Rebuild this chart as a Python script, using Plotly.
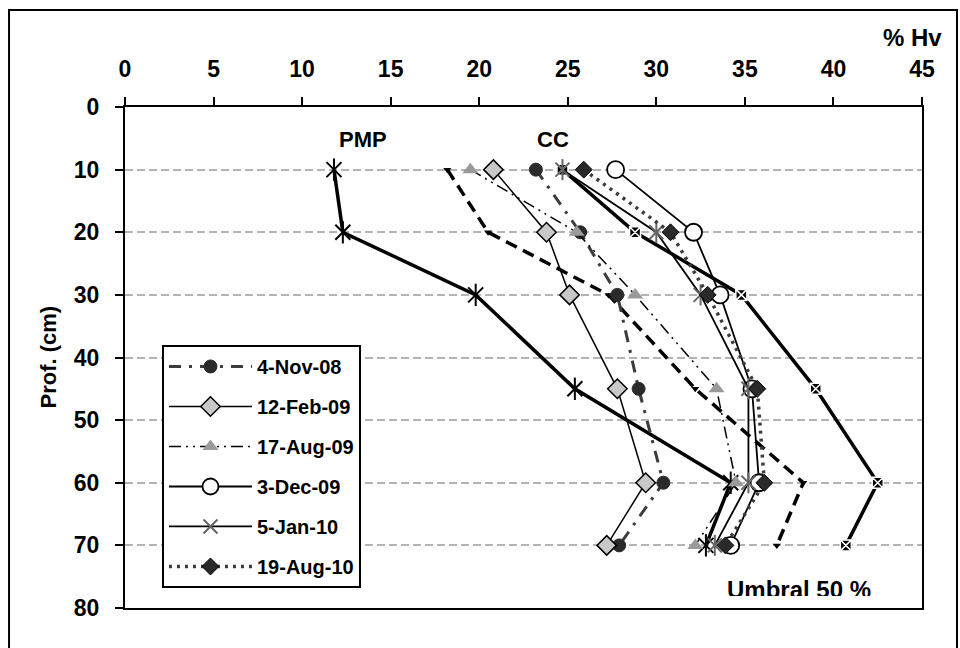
import plotly.graph_objects as go

# Soil moisture profiles: volumetric water content (% Hv) by depth (cm)
depths = [10, 20, 30, 45, 60, 70]

pmp = [11.8, 12.3, 19.8, 25.4, 34.2, 32.8]      # permanent wilting point
cc = [24.7, 28.8, 34.8, 39.0, 42.5, 40.7]       # field capacity
umbral = [18.2, 20.5, 27.3, 32.2, 38.3, 36.8]   # 50 % threshold

nov08 = [23.2, 25.7, 27.8, 29.0, 30.4, 27.9]
feb09 = [20.8, 23.8, 25.1, 27.8, 29.4, 27.2]
aug09 = [19.5, 25.5, 28.8, 33.4, 34.5, 32.2]
dec09 = [27.7, 32.1, 33.6, 35.4, 35.8, 34.2]
jan10 = [24.7, 30.0, 32.5, 35.2, 35.2, 33.3]
aug10 = [25.9, 30.8, 32.9, 35.7, 36.1, 33.9]

x_ticks = [0, 5, 10, 15, 20, 25, 30, 35, 40, 45]
y_ticks = [0, 10, 20, 30, 40, 50, 60, 70, 80]

FONT = "Liberation Sans, Arial, sans-serif"

fig = go.Figure()

# Reference curves (not in legend)
fig.add_trace(go.Scatter(
    x=pmp, y=depths, mode="lines+markers", showlegend=False,
    line=dict(color="black", width=3.5),
    marker=dict(symbol="x-thin-open", size=15, color="black",
                line=dict(color="black", width=2)),
))
fig.add_trace(go.Scatter(
    x=pmp, y=depths, mode="markers", showlegend=False,
    marker=dict(symbol="line-ns-open", size=16, color="black",
                line=dict(color="black", width=2)),
))
fig.add_trace(go.Scatter(
    x=cc, y=depths, mode="lines+markers", showlegend=False,
    line=dict(color="black", width=3.5),
    marker=dict(symbol="square-x", size=11, color="black",
                line=dict(color="white", width=1.5)),
))
fig.add_trace(go.Scatter(
    x=umbral, y=depths, mode="lines+markers", showlegend=False,
    line=dict(color="black", width=3.5, dash="12px,7px"),
    marker=dict(symbol="triangle-down", size=7, color="black"),
))

# Dated profiles
fig.add_trace(go.Scatter(
    x=nov08, y=depths, mode="lines+markers", name="4-Nov-08", legendgroup="a",
    line=dict(color="#3c3c3c", width=3, dash="12px,8px,3px,8px"),
    marker=dict(symbol="circle", size=13, color="#2a2a2a",
                line=dict(color="#2a2a2a", width=1)),
))
fig.add_trace(go.Scatter(
    x=feb09, y=depths, mode="lines+markers", name="12-Feb-09", legendgroup="b",
    line=dict(color="black", width=1.5),
    marker=dict(symbol="diamond", size=15, color="#c8c8c8",
                line=dict(color="black", width=1.5)),
))
fig.add_trace(go.Scatter(
    x=aug09, y=depths, mode="lines+markers", name="17-Aug-09", legendgroup="c",
    line=dict(color="black", width=1.5, dash="12px,5px,2px,5px,2px,5px"),
    marker=dict(symbol="triangle-up", size=14, color="#9a9a9a",
                line=dict(width=0)),
))
fig.add_trace(go.Scatter(
    x=dec09, y=depths, mode="lines+markers", name="3-Dec-09", legendgroup="d",
    line=dict(color="black", width=1.8),
    marker=dict(symbol="circle", size=17, color="white",
                line=dict(color="black", width=1.8)),
))
fig.add_trace(go.Scatter(
    x=jan10, y=depths, mode="lines+markers", name="5-Jan-10", legendgroup="e",
    line=dict(color="black", width=1.8),
    marker=dict(symbol="x-thin-open", size=14, color="#666666",
                line=dict(color="#666666", width=2)),
))
fig.add_trace(go.Scatter(
    x=jan10, y=depths, mode="markers", showlegend=False, legendgroup="e",
    marker=dict(symbol="line-ns-open", size=15, color="#666666",
                line=dict(color="#666666", width=2)),
))
fig.add_trace(go.Scatter(
    x=aug10, y=depths, mode="lines+markers", name="19-Aug-10", legendgroup="f",
    line=dict(color="#3c3c3c", width=3.5, dash="3px,5px"),
    marker=dict(symbol="diamond", size=13, color="#2a2a2a",
                line=dict(color="black", width=1)),
))

axis_font = dict(family=FONT, size=23, color="black", weight="bold")

fig.update_layout(
    width=960, height=648,
    margin=dict(l=125, r=38, t=107, b=40),
    paper_bgcolor="white", plot_bgcolor="white",
    font=dict(family=FONT, color="black"),
    xaxis=dict(
        side="top", range=[0, 45], tickvals=x_ticks,
        ticktext=[str(v) for v in x_ticks],
        showgrid=False, zeroline=False,
        showline=True, mirror=True, linecolor="black", linewidth=2,
        ticks="outside", ticklen=8, tickwidth=1.5, tickcolor="black",
        tickfont=axis_font, ticklabelstandoff=11,
    ),
    yaxis=dict(
        range=[80, 0], tickvals=y_ticks,
        ticktext=[str(v) for v in y_ticks],
        showgrid=True, gridcolor="#b4b4b4", gridwidth=1.5, griddash="8px,4px",
        zeroline=False,
        showline=True, mirror=True, linecolor="black", linewidth=2,
        ticks="outside", ticklen=8, tickwidth=1.5, tickcolor="black",
        tickfont=axis_font, ticklabelstandoff=11,
    ),
    legend=dict(
        x=0.0464, y=0.525, xanchor="left", yanchor="top",
        bgcolor="white", bordercolor="black", borderwidth=2,
        font=dict(family=FONT, size=20, color="black", weight="bold"),
        tracegroupgap=11, itemwidth=83,
    ),
    showlegend=True,
)

# Outer frame around the whole chart
fig.add_shape(type="rect", xref="paper", yref="paper",
              x0=-0.1455, x1=1.0439, y0=-0.12, y1=1.1936,
              line=dict(color="black", width=2), fillcolor="rgba(0,0,0,0)",
              layer="below")

def label(text, x, y, size=22, **kw):
    fig.add_annotation(text=text, xref="paper", yref="paper", x=x, y=y,
                       xanchor=kw.pop("xanchor", "center"),
                       yanchor=kw.pop("yanchor", "middle"),
                       showarrow=False,
                       font=dict(family=FONT, size=size, color="black",
                                 weight="bold"),
                       **kw)

label("% Hv", 0.9875, 1.1397, size=24)
label("PMP", 0.2986, 0.936)
label("CC", 0.537, 0.936)
label("Umbral 50 %", 0.8457, 0.068, size=24, yanchor="top",
      valign="top", height=20)
label("Prof. (cm)", -0.0966, 0.5, textangle=-90)

fig.write_html("out.html")
